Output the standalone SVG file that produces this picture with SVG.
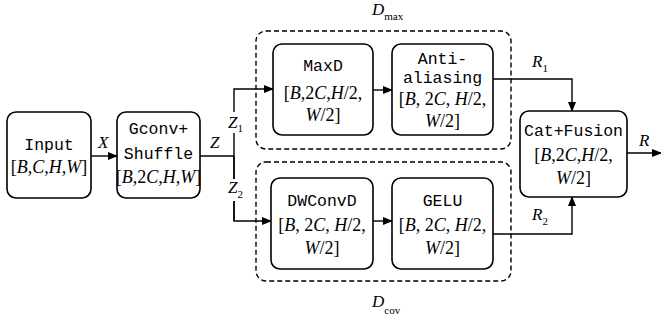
<svg xmlns="http://www.w3.org/2000/svg" width="661" height="321" viewBox="0 0 661 321">
<defs>
<marker id="ah" markerWidth="10" markerHeight="8" refX="9" refY="4" orient="auto" markerUnits="userSpaceOnUse">
<path d="M0,0 L10,4 L0,8 Z" fill="#000"/>
</marker>
<style>
.box{fill:#fff;stroke:#000;stroke-width:1.6}
.grp{fill:none;stroke:#000;stroke-width:1.4;stroke-dasharray:5,3}
.ln{fill:none;stroke:#000;stroke-width:1.4}
.w{font-family:"Liberation Mono","DejaVu Sans Mono",monospace;font-size:16.5px;text-anchor:middle;fill:#000}
.m{font-family:"Liberation Serif","Times New Roman",serif;font-size:18px;text-anchor:middle;fill:#000}
.i{font-style:italic}
.lab{font-family:"Liberation Serif","Times New Roman",serif;font-size:17px;font-style:italic;fill:#000}
.sub{font-family:"Liberation Serif","Times New Roman",serif;font-size:11px;font-style:normal}
</style>
</defs>
<rect width="661" height="321" fill="#fff"/>
<g id="dmax">
<rect class="grp" x="256" y="31" width="255" height="118" rx="10"/>
<text class="lab" x="372" y="15">D<tspan class="sub" dy="5">max</tspan></text>
</g>
<g id="dcov">
<rect class="grp" x="256" y="162" width="255" height="119" rx="10"/>
<text class="lab" x="372" y="307">D<tspan class="sub" dy="7">cov</tspan></text>
</g>
<g id="connectors">
<line class="ln" x1="91" y1="156" x2="117" y2="156" marker-end="url(#ah)"/>
<polyline class="ln" points="200,156 234,156"/>
<polyline class="ln" points="234,221 234,89 273,89" marker-end="url(#ah)"/>
<polyline class="ln" points="234,156 234,221 271,221" marker-end="url(#ah)"/>
<line class="ln" x1="373" y1="90" x2="392" y2="90" marker-end="url(#ah)"/>
<line class="ln" x1="373" y1="221" x2="392" y2="221" marker-end="url(#ah)"/>
<polyline class="ln" points="493,79 572,79 572,111" marker-end="url(#ah)"/>
<polyline class="ln" points="493,234 572,234 572,197" marker-end="url(#ah)"/>
<line class="ln" x1="627" y1="153" x2="661" y2="153" marker-end="url(#ah)"/>
<rect x="226" y="112" width="20" height="21" fill="#fff"/>
<rect x="226" y="179" width="20" height="22" fill="#fff"/>
<text class="lab" x="98" y="148">X</text>
<text class="lab" x="210" y="148">Z</text>
<text class="lab" x="228" y="128">Z<tspan class="sub" dy="4">1</tspan></text>
<text class="lab" x="228" y="193">Z<tspan class="sub" dy="5">2</tspan></text>
<text class="lab" x="532" y="67">R<tspan class="sub" dy="5">1</tspan></text>
<text class="lab" x="532" y="220">R<tspan class="sub" dy="5">2</tspan></text>
<text class="lab" x="639" y="146">R</text>
</g>
<g id="input">
<rect class="box" x="7" y="112" width="84" height="86" rx="9"/>
<text class="w" x="49" y="150">Input</text>
<text class="m" x="49" y="173">[<tspan class="i">B</tspan>,<tspan class="i">C</tspan>,<tspan class="i">H</tspan>,<tspan class="i">W</tspan>]</text>
</g>
<g id="gconv">
<rect class="box" x="117" y="112" width="83" height="86" rx="9"/>
<text class="w" x="158.5" y="134">Gconv+</text>
<text class="w" x="158.5" y="159">Shuffle</text>
<text class="m" x="158.5" y="183">[<tspan class="i">B</tspan>,2<tspan class="i">C</tspan>,<tspan class="i">H</tspan>,<tspan class="i">W</tspan>]</text>
</g>
<g id="maxd">
<rect class="box" x="273" y="44" width="100" height="91" rx="9"/>
<text class="w" x="323" y="71">MaxD</text>
<text class="m" x="323" y="99">[<tspan class="i">B</tspan>,2<tspan class="i">C</tspan>,<tspan class="i">H</tspan>/2,</text>
<text class="m" x="323" y="121"><tspan class="i">W</tspan>/2]</text>
</g>
<g id="antialias">
<rect class="box" x="392" y="44" width="101" height="91" rx="9"/>
<text class="w" x="442.5" y="64">Anti-</text>
<text class="w" x="442.5" y="83">aliasing</text>
<text class="m" x="442.5" y="105">[<tspan class="i">B</tspan>, 2<tspan class="i">C</tspan>, <tspan class="i">H</tspan>/2,</text>
<text class="m" x="442.5" y="127"><tspan class="i">W</tspan>/2]</text>
</g>
<g id="dwconvd">
<rect class="box" x="271" y="178" width="102" height="91" rx="9"/>
<text class="w" x="322" y="206">DWConvD</text>
<text class="m" x="322" y="231">[<tspan class="i">B</tspan>, 2<tspan class="i">C</tspan>, <tspan class="i">H</tspan>/2,</text>
<text class="m" x="322" y="254"><tspan class="i">W</tspan>/2]</text>
</g>
<g id="gelu">
<rect class="box" x="392" y="178" width="101" height="91" rx="9"/>
<text class="w" x="442.5" y="206">GELU</text>
<text class="m" x="442.5" y="231">[<tspan class="i">B</tspan>, 2<tspan class="i">C</tspan>, <tspan class="i">H</tspan>/2,</text>
<text class="m" x="442.5" y="254"><tspan class="i">W</tspan>/2]</text>
</g>
<g id="catfusion">
<rect class="box" x="520" y="111" width="107" height="86" rx="9"/>
<text class="w" x="573.5" y="136">Cat+Fusion</text>
<text class="m" x="573.5" y="161">[<tspan class="i">B</tspan>,2<tspan class="i">C</tspan>,<tspan class="i">H</tspan>/2,</text>
<text class="m" x="573.5" y="184"><tspan class="i">W</tspan>/2]</text>
</g>
</svg>
